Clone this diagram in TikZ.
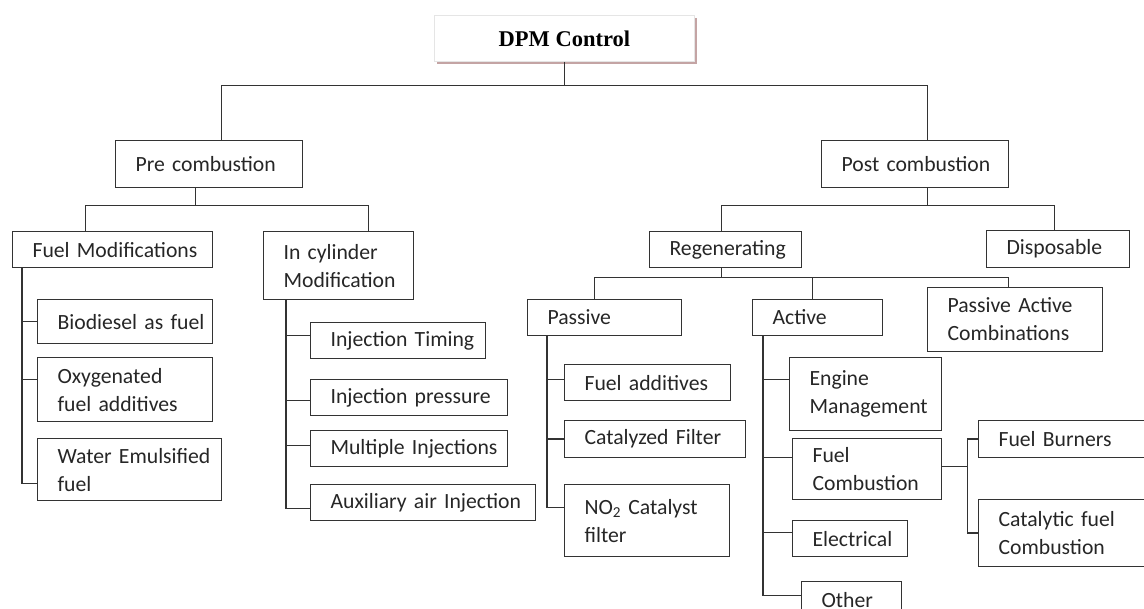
\documentclass[tikz,border=0pt]{standalone}
\usepackage{fontspec}
\setmainfont{Carlito}
\newfontfamily\dpmfont{Liberation Serif}
\usetikzlibrary{shadows}
\definecolor{shadowrose}{RGB}{196,164,164}
\tikzset{
	box/.style={draw=black!80, line width=1.1pt, anchor=north west, inner xsep=0pt, inner ysep=0pt,
		text width=#1, align=left, text=black!85, font=\fontsize{21.7}{28}\selectfont,
		execute at begin node={\leftskip=20pt}},
	link/.style={draw=black!80, line width=1.1pt},
}

\begin{document}
\begin{tikzpicture}[x=1pt, y=-1pt]
		\useasboundingbox (0,0) rectangle (1144,609);
		% top
		\node[draw=black!10, fill=white, line width=0.8pt, minimum width=260pt, minimum height=46pt, anchor=north west,
			drop shadow={shadow xshift=3pt, shadow yshift=-3pt, fill=shadowrose, opacity=1},
			font=\dpmfont\bfseries\fontsize{22.5}{27}\selectfont] (dpm) at (434,15) {DPM Control};
		\node[box=187pt, minimum height=47pt] (pre) at (115,140) {Pre combustion};
		\node[box=187pt, minimum height=47pt] (post) at (821,140) {Post combustion};
		% pre combustion side
		\node[box=200pt, minimum height=36pt] (fuelmod) at (12,231) {Fuel Modifications};
		\node[box=150pt, minimum height=68pt] (incyl) at (263,231) {In cylinder\\Modification};
		\node[box=175pt, minimum height=44pt] (bio) at (37,299) {Biodiesel as fuel};
		\node[box=175pt, minimum height=64pt] (oxy) at (37,357) {Oxygenated\\fuel additives};
		\node[box=184pt, minimum height=62pt] (water) at (37,438) {Water Emulsified\\fuel};
		\node[box=175pt, minimum height=36pt] (timing) at (310,322) {Injection Timing};
		\node[box=197pt, minimum height=36pt] (press) at (310,379) {Injection pressure};
		\node[box=197pt, minimum height=36pt] (multi) at (310,430) {Multiple Injections};
		\node[box=225pt, minimum height=36pt] (aux) at (310,484) {Auxiliary air Injection};
		% post combustion side
		\node[box=152pt, minimum height=36pt] (regen) at (649,231) {Regenerating};
		\node[box=143pt, minimum height=37pt] (disp) at (986,230) {Disposable};
		\node[box=154pt, minimum height=36pt] (passive) at (527,299) {Passive};
		\node[box=130pt, minimum height=36pt] (active) at (752,299) {Active};
		\node[box=175pt, minimum height=64pt] (pac) at (927,287) {Passive Active\\Combinations};
		\node[box=166pt, minimum height=36pt] (fadd) at (564,364) {Fuel additives};
		\node[box=181pt, minimum height=37pt] (catf) at (564,420) {Catalyzed Filter};
		\node[box=165pt, minimum height=72pt] (notwo) at (564,484) {NO\textsubscript{2} Catalyst\\filter};
		\node[box=152pt, minimum height=73pt] (engine) at (789,357) {Engine\\Management};
		\node[box=149pt, minimum height=61pt] (fcomb) at (792,438) {Fuel\\Combustion};
		\node[box=115pt, minimum height=36pt] (elec) at (792,520) {Electrical};
		\node[box=100pt, minimum height=36pt] (other) at (801,581) {Other};
		\node[box=180pt, minimum height=37pt] (burn) at (978,420) {Fuel Burners};
		\node[box=180pt, minimum height=67pt] (catcomb) at (978,499) {Catalytic fuel\\Combustion};
		% connectors
		\draw[link] (dpm.south) -- ++(0,24) -| ([xshift=12pt]pre.north);
		\draw[link] (dpm.south) -- ++(0,24) -| ([xshift=12.5pt]post.north);
		\draw[link] ([xshift=-13.5pt]pre.south) -- ++(0,17) -| ([xshift=-27pt]fuelmod.north);
		\draw[link] ([xshift=-13.5pt]pre.south) -- ++(0,17) -| ([xshift=30pt]incyl.north);
		\draw[link] ([xshift=10pt]fuelmod.south west) |- (bio.west);
		\draw[link] ([xshift=10pt]fuelmod.south west) |- ([yshift=10pt]oxy.west);
		\draw[link] ([xshift=10pt]fuelmod.south west) |- ([yshift=-14pt]water.west);
		\draw[link] ([xshift=23pt]incyl.south west) |- ([yshift=5pt]timing.west);
		\draw[link] ([xshift=23pt]incyl.south west) |- ([yshift=-3pt]press.west);
		\draw[link] ([xshift=23pt]incyl.south west) |- ([yshift=3pt]multi.west);
		\draw[link] ([xshift=23pt]incyl.south west) |- ([yshift=-6pt]aux.west);
		\draw[link] ([xshift=12.5pt]post.south) -- ++(0,17) -| ([xshift=-4pt]regen.north);
		\draw[link] ([xshift=12.5pt]post.south) -- ++(0,17) -| ([xshift=-3.5pt]disp.north);
		\draw[link] ([xshift=-4pt]regen.south) -- ++(0,9) -| ([xshift=-10pt]passive.north);
		\draw[link] ([xshift=-4pt]regen.south) -- ++(0,9) -| ([xshift=-5pt]active.north);
		\draw[link] ([xshift=-4pt]regen.south) -- ++(0,9) -| ([xshift=-6.5pt]pac.north);
		\draw[link] ([xshift=20pt]passive.south west) |- ([yshift=3pt]fadd.west);
		\draw[link] ([xshift=20pt]passive.south west) |- (catf.west);
		\draw[link] ([xshift=20pt]passive.south west) |- ([yshift=13pt]notwo.west);
		\draw[link] ([xshift=11pt]active.south west) |- ([yshift=14.5pt]engine.west);
		\draw[link] ([xshift=11pt]active.south west) |- ([yshift=11.5pt]fcomb.west);
		\draw[link] ([xshift=11pt]active.south west) |- ([yshift=6pt]elec.west);
		\draw[link] ([xshift=11pt]active.south west) |- ([yshift=4pt]other.west);
		\draw[link] ([yshift=2.5pt]fcomb.east) -- ++(25,0) |- (burn.west);
		\draw[link] ([yshift=2.5pt]fcomb.east) -- ++(25,0) |- (catcomb.west);
	\end{tikzpicture}
\end{document}
